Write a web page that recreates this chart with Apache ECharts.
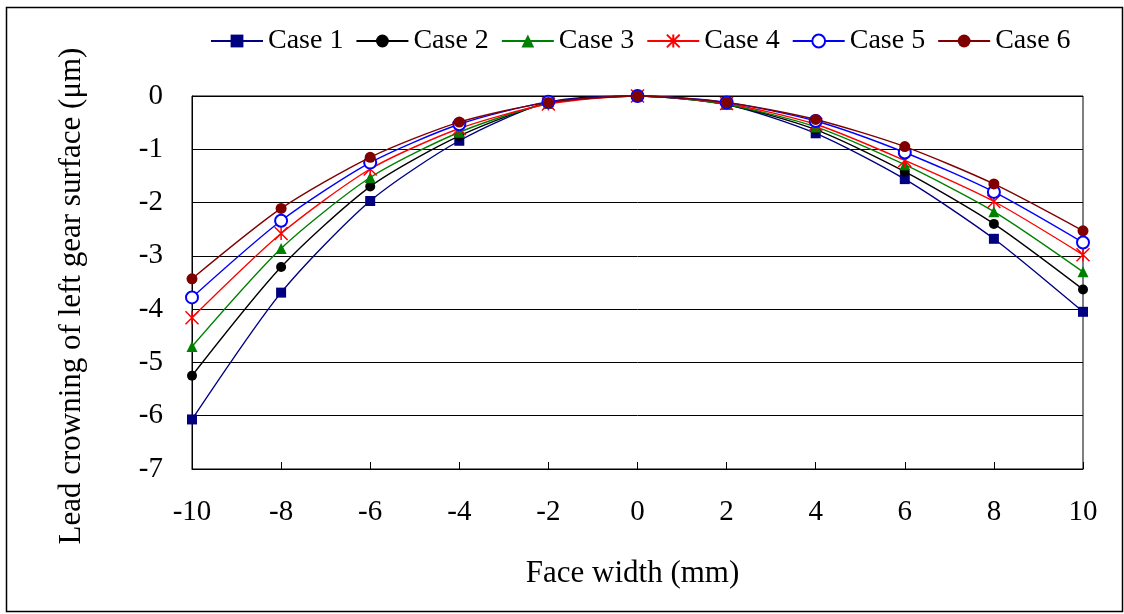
<!DOCTYPE html>
<html>
<head>
<meta charset="utf-8">
<script src="https://cdn.jsdelivr.net/npm/echarts@6/dist/echarts.min.js"></script>
<style>
html,body{margin:0;padding:0;background:#fff;}
#chart{width:1124px;height:614px;}
</style>
</head>
<body>
<div id="chart"></div>
<script>
var xValues = [-10, -8, -6, -4, -2, 0, 2, 4, 6, 8, 10];
var seriesNames = ['Case 1', 'Case 2', 'Case 3', 'Case 4', 'Case 5', 'Case 6'];
var case1 = [-6.07, -3.69, -1.97, -0.84, -0.12, 0, -0.16, -0.70, -1.56, -2.68, -4.05];
var case2 = [-5.25, -3.21, -1.70, -0.75, -0.13, 0, -0.16, -0.63, -1.42, -2.40, -3.63];
var case3 = [-4.70, -2.86, -1.53, -0.68, -0.14, 0, -0.16, -0.58, -1.29, -2.17, -3.30];
var case4 = [-4.16, -2.58, -1.37, -0.61, -0.15, 0, -0.14, -0.53, -1.21, -1.98, -2.98];
var case5 = [-3.78, -2.34, -1.25, -0.53, -0.11, 0, -0.12, -0.47, -1.06, -1.80, -2.75];
var case6 = [-3.43, -2.11, -1.15, -0.49, -0.12, 0, -0.12, -0.44, -0.95, -1.65, -2.53];
var yTicks = [-7, -6, -5, -4, -3, -2, -1, 0];
var xTitle = 'Face width (mm)';
var yTitle = 'Lead crowning of left gear surface (μm)';

var FONT = '"Liberation Serif", "Times New Roman", serif';
var allCases = [case1, case2, case3, case4, case5, case6];
var colors = ['#000080', '#000000', '#008000', '#FF0000', '#0000FF', '#800000'];
var symbols = ['rect', 'circle', 'triangle', 'path://M0,0L10,10M10,0L0,10M5,0L5,10', 'emptyCircle', 'circle'];
var sizes = [10, 10, 11, 13, 12, 11];

function pairs(arr) {
  return xValues.map(function (x, i) { return [x, arr[i]]; });
}

var series = allCases.map(function (arr, k) {
  var s = {
    name: seriesNames[k],
    type: 'line',
    data: pairs(arr),
    smooth: 0.25,
    symbol: symbols[k],
    symbolSize: sizes[k],
    showSymbol: true,
    lineStyle: { color: colors[k], width: 1.4 },
    itemStyle: { color: colors[k] },
    z: 2 + k
  };
  if (k === 3) {
    s.itemStyle = { color: colors[k], borderColor: colors[k], borderWidth: 1.5 };
  }
  if (k === 4) {
    s.itemStyle = { color: colors[k], borderColor: colors[k], borderWidth: 1.8 };
  }
  return s;
});

var chart = echarts.init(document.getElementById('chart'), null, { renderer: 'canvas' });
chart.setOption({
  backgroundColor: '#fff',
  animation: false,
  textStyle: { fontFamily: FONT },
  graphic: [{
    type: 'rect',
    shape: { x: 6.5, y: 7.5, width: 1116, height: 604 },
    style: { fill: 'none', stroke: '#000', lineWidth: 1.5 },
    silent: true
  }, {
    type: 'text',
    x: 72, y: 296,
    rotation: Math.PI / 2,
    style: {
      text: yTitle,
      fontFamily: FONT, fontSize: 31, fill: '#000',
      align: 'center', verticalAlign: 'middle'
    },
    silent: true
  }],
  legend: {
    data: seriesNames,
    left: 205,
    top: 22,
    itemWidth: 52,
    itemHeight: 16,
    itemGap: 12,
    textStyle: { fontFamily: FONT, fontSize: 28, color: '#000' }
  },
  grid: {
    left: 192, right: 41, top: 96, bottom: 145,
    show: true, borderColor: '#000', borderWidth: 1, backgroundColor: '#fff'
  },
  xAxis: {
    type: 'value',
    min: -10, max: 10, interval: 2,
    name: xTitle,
    nameLocation: 'middle',
    nameGap: 89,
    nameTextStyle: { fontFamily: FONT, fontSize: 31, color: '#000', padding: [0, 10, 0, 0] },
    axisLine: { show: true, onZero: false, lineStyle: { color: '#000', width: 1 } },
    axisTick: { show: true, inside: true, length: 7, lineStyle: { color: '#000' } },
    axisLabel: { fontFamily: FONT, fontSize: 29, color: '#000', margin: 29 },
    splitLine: { show: false }
  },
  yAxis: {
    type: 'value',
    min: yTicks[0], max: yTicks[yTicks.length - 1], interval: 1,
    axisLine: { show: true, onZero: false, lineStyle: { color: '#000', width: 1 } },
    axisTick: { show: false },
    axisLabel: { fontFamily: FONT, fontSize: 29, color: '#000', margin: 29 },
    splitLine: { show: true, lineStyle: { color: '#000', width: 1 } }
  },
  series: series
});
</script>
</body>
</html>
